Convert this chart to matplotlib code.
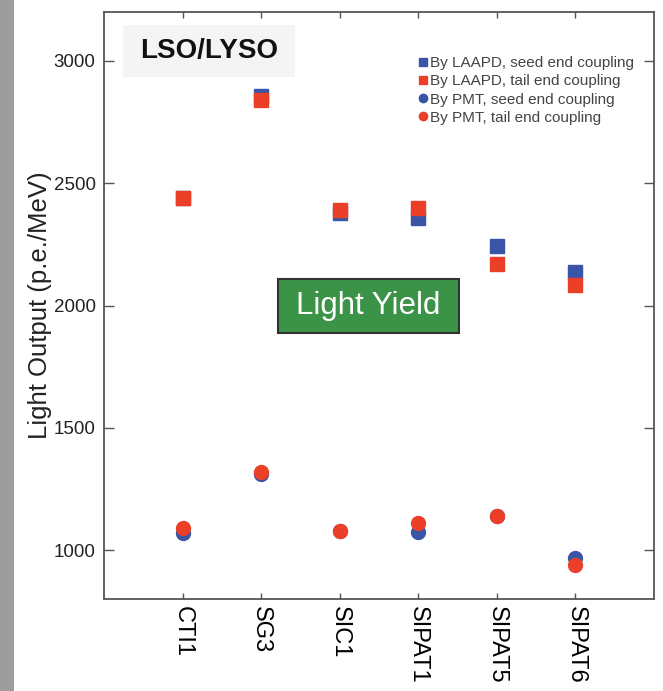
import matplotlib
matplotlib.use("Agg")
import matplotlib.pyplot as plt
from matplotlib.patches import Rectangle
from matplotlib.lines import Line2D

plt.rcParams['font.family'] = ['Liberation Sans', 'DejaVu Sans']

categories = ["CTI1", "SG3", "SIC1", "SIPAT1", "SIPAT5", "SIPAT6"]
laapd_seed = [2440, 2855, 2380, 2358, 2242, 2139]
laapd_tail = [2440, 2842, 2390, 2400, 2171, 2082]
pmt_seed = [1069, 1311, 1079, 1075, 1140, 966]
pmt_tail = [1089, 1320, 1080, 1110, 1140, 940]
yticks = [1000, 1500, 2000, 2500, 3000]

blue = "#3a55a8"
red = "#ec3f28"

W, H = 663, 691
fig = plt.figure(figsize=(W / 100, H / 100), dpi=100)
ax = fig.add_axes([104 / W, 1 - 599 / H, 550 / W, 587 / H])

# left gray strip
fig.patches.append(Rectangle((0, 0), 14 / W, 1, transform=fig.transFigure,
                             facecolor="#9d9d9d", edgecolor="none", zorder=0))

x = list(range(1, len(categories) + 1))
ax.plot(x, laapd_seed, ls="none", marker="s", ms=10, color=blue, zorder=3)
ax.plot(x, laapd_tail, ls="none", marker="s", ms=10, color=red, zorder=4)
ax.plot(x, pmt_seed, ls="none", marker="o", ms=10, color=blue, zorder=3)
ax.plot(x, pmt_tail, ls="none", marker="o", ms=10, color=red, zorder=4)

ax.set_xlim(0, 7)
ax.set_ylim(800, 3200)
ax.set_xticks(x)
ax.set_xticklabels(categories, rotation=270, fontsize=17, va="top", ha="center")
ax.set_yticks(yticks)
ax.set_yticklabels([str(v) for v in yticks], fontsize=13.5, color="#222222")
ax.tick_params(axis="y", direction="in", length=7, width=1, color="#555555",
               left=True, right=True, pad=6)
ax.tick_params(axis="x", direction="in", length=4.5, width=1, color="#555555",
               bottom=True, top=True, pad=5)
for s in ax.spines.values():
    s.set_color("#555555")
    s.set_linewidth(1.3)

ax.set_ylabel("Light Output (p.e./MeV)", fontsize=18.5, color="#222222", labelpad=1)

# LSO/LYSO label box
fig.patches.append(Rectangle((123 / W, 1 - 77 / H), 172 / W, 52 / H,
                             transform=fig.transFigure, facecolor="#f4f4f4",
                             edgecolor="none", zorder=1))
fig.text(209 / W, 1 - 51 / H, "LSO/LYSO", fontsize=20, fontweight="bold",
         ha="center", va="center", color="#111111")

# Light Yield box
fig.patches.append(Rectangle((278 / W, 1 - 333 / H), 181 / W, 54 / H,
                             transform=fig.transFigure, facecolor="#3a9346",
                             edgecolor="#333333", linewidth=1.5, zorder=5))
fig.text(368.5 / W, 1 - 306 / H, "Light Yield", fontsize=22.5, color="white",
         ha="center", va="center", zorder=6)

handles = [
    Line2D([], [], ls="none", marker="s", ms=6, color=blue),
    Line2D([], [], ls="none", marker="s", ms=6, color=red),
    Line2D([], [], ls="none", marker="o", ms=6, color=blue),
    Line2D([], [], ls="none", marker="o", ms=6, color=red),
]
labels = ["By LAAPD, seed end coupling", "By LAAPD, tail end coupling",
          "By PMT, seed end coupling", "By PMT, tail end coupling"]
leg = ax.legend(handles, labels, loc="upper left",
                bbox_to_anchor=(418 / W, 1 - 56 / H), bbox_transform=fig.transFigure,
                frameon=False, fontsize=11, handlelength=0.6, handletextpad=0.2,
                labelspacing=0.28, borderpad=0, borderaxespad=0)
for t in leg.get_texts():
    t.set_color("#444444")

fig.savefig("out.png", dpi=100)
